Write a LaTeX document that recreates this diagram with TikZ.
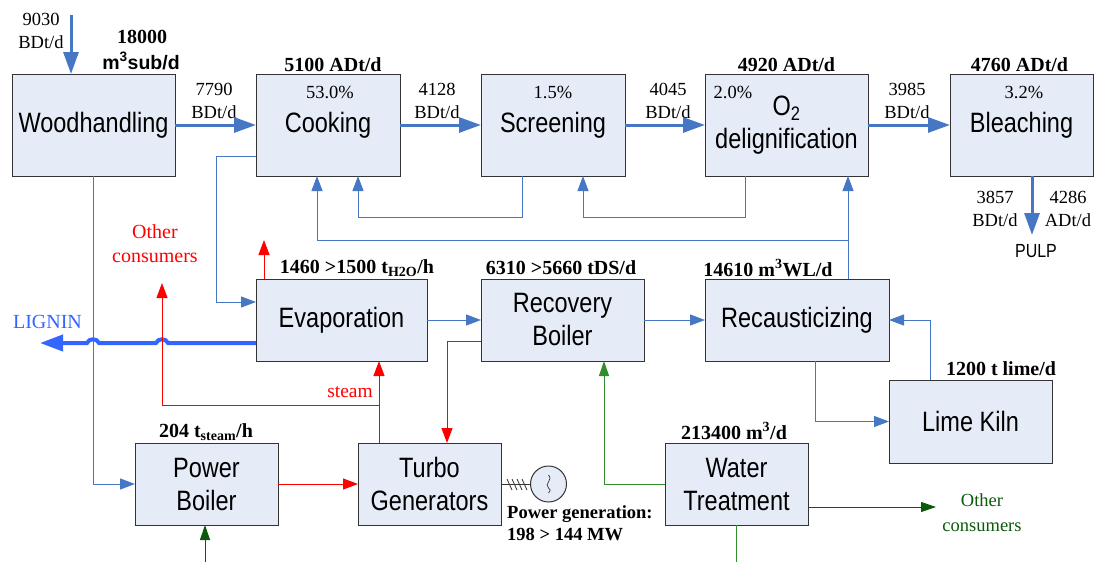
\documentclass[tikz,border=0pt]{standalone}
\usepackage{fontspec}
\setmainfont{Liberation Serif}
\setsansfont{Liberation Sans}
\newfontfamily\boxsans[FakeStretch=0.84]{Liberation Sans}
\usepackage{tikz}
\usetikzlibrary{positioning, arrows.meta, calc}
\definecolor{boxfill}{HTML}{E6ECF7}
\definecolor{flowblue}{HTML}{4677C4}
\definecolor{ligninblue}{HTML}{3366FF}
\definecolor{watergreen}{HTML}{2F8F2F}
\definecolor{darkgreen}{HTML}{0B5A0B}
\tikzset{
    procbox/.style={rectangle, draw=black!80, line width=1pt, fill=boxfill, minimum height=#1, inner sep=0pt, outer sep=0pt, align=center, font=\boxsans\fontsize{28}{33}\selectfont},
    procbox/.default=102pt,
    flowlabel/.style={align=center, inner sep=0pt, font=\fontsize{18.5}{23}\selectfont},
    headlabel/.style={align=center, inner sep=0pt, font=\bfseries\fontsize{20}{24}\selectfont},
    mainflow/.style={-{Triangle[length=22pt,width=15pt]}, line width=3pt, flowblue},
    sideflow/.style={-{Triangle[length=15pt,width=11pt]}, line width=1pt, flowblue},
    steamflow/.style={-{Triangle[length=15pt,width=11pt]}, line width=1pt, red},
    waterflow/.style={-{Triangle[length=15pt,width=10pt]}, line width=1pt, watergreen}
}
\begin{document}
\begin{tikzpicture}[x=1pt, y=-1pt]
    \useasboundingbox (0,0) rectangle (1095,562);
    % top row
    \node[procbox, minimum width=163pt] (wood) at (93.5,125) {Woodhandling};
    \node[procbox, minimum width=144pt, right=81pt of wood] (cook) {Cooking};
    \node[procbox, minimum width=144pt, right=81pt of cook] (screen) {Screening};
    \node[procbox, minimum width=163pt, right=80pt of screen] (o2) {O\textsubscript{2}\\delignification};
    \node[procbox, minimum width=143pt, right=82pt of o2] (bleach) {Bleaching};
    % middle row
    \node[procbox=82pt, minimum width=171pt, below right=103pt and 0pt of cook.south west] (evap) {Evaporation};
    \node[procbox=82pt, minimum width=163pt, right=54pt of evap] (recov) {Recovery\\Boiler};
    \node[procbox=82pt, minimum width=184pt, right=61pt of recov] (recaust) {Recausticizing};
    \node[procbox=83pt, minimum width=163pt, below right=19pt and 0pt of recaust.south east] (lime) {Lime Kiln};
    % bottom row
    \node[procbox=82pt, minimum width=143pt, below right=82pt and 102pt of evap.south west] (turbo) {Turbo\\Generators};
    \node[procbox=82pt, minimum width=143pt, left=80pt of turbo] (power) {Power\\Boiler};
    \node[procbox=82pt, minimum width=143pt, right=164pt of turbo] (water) {Water\\Treatment};
    \node[circle, draw=black!80, line width=1pt, fill=boxfill, minimum size=36pt, inner sep=0pt, right=29pt of turbo] (gen) {};
    % free ends
    \coordinate (woodin) at (71,15);
    \coordinate (pulpin) at (1032,235);
    \coordinate (ligninout) at (40,343);
    \coordinate (evapout) at (264,240);
    \coordinate (steamout) at (162,283);
    \coordinate (steamjct) at (379,405);
    \coordinate (wljct) at (848,240);
    \coordinate (waterout) at (936,507);
    \coordinate (waterin) at (205,562);
    \coordinate (waterdown) at (736.5,562);
    % figures beside the boxes
    \node[flowlabel] (woodinlbl) at (41,31) {9030\\BDt/d};
    \node[flowlabel] (woodflow) at (214,101) {7790\\BDt/d};
    \node[flowlabel] (cookflow) at (437,101) {4128\\BDt/d};
    \node[flowlabel] (screenflow) at (668,101) {4045\\BDt/d};
    \node[flowlabel] (o2flow) at (907,101) {3985\\BDt/d};
    \node[flowlabel] (pulpbd) at (995,209) {3857\\BDt/d};
    \node[flowlabel] (pulpad) at (1068,209) {4286\\ADt/d};
    \node[flowlabel] (cookpct) at (330,92) {53.0\%};
    \node[flowlabel] (screenpct) at (553,92) {1.5\%};
    \node[flowlabel] (o2pct) at (733,92) {2.0\%};
    \node[flowlabel] (bleachpct) at (1024,92) {3.2\%};
    \node[flowlabel, text=red, font=\fontsize{20}{24}\selectfont] (otherred) at (155,244) {Other\\consumers};
    \node[flowlabel, text=red, font=\fontsize{19.5}{23}\selectfont] (steamlbl) at (350,392) {steam};
    \node[flowlabel, text=ligninblue, font=\fontsize{20}{23}\selectfont] (ligninlbl) at (47.5,322) {LIGNIN};
    \node[flowlabel, text=darkgreen, font=\fontsize{18.5}{25}\selectfont] (othergreen) at (982,513) {Other\\consumers};
    \node[inner sep=0pt, font=\boxsans\fontsize{19}{20}\selectfont] (pulp) at (1036,251) {PULP};
    % capacities
    \node[headlabel] (woodcap) at (142,37) {18000};
    \node[headlabel, font=\sffamily\bfseries\fontsize{19.5}{24}\selectfont] (woodcap2) at (141,61) {m\textsuperscript{3}sub/d};
    \node[headlabel, above=2pt of cook, xshift=5pt] (cookcap) {5100 ADt/d};
    \node[headlabel, above=2pt of o2] (o2cap) {4920 ADt/d};
    \node[headlabel, above=2pt of bleach, xshift=-2pt] (bleachcap) {4760 ADt/d};
    \node[headlabel] (evapcap) at (357,268) {1460 >1500 t\textsubscript{H2O}/h};
    \node[headlabel] (recovcap) at (561,268) {6310 >5660 tDS/d};
    \node[headlabel] (recaustcap) at (768,268) {14610 m\textsuperscript{3}WL/d};
    \node[headlabel] (limecap) at (1001,369) {1200 t lime/d};
    \node[headlabel] (powercap) at (206,432) {204 t\textsubscript{steam}/h};
    \node[headlabel] (watercap) at (734,431) {213400 m\textsuperscript{3}/d};
    \node[headlabel, align=left, font=\bfseries\fontsize{18.5}{22}\selectfont, below right=21pt and 6pt of turbo.east] (gencap) {Power generation:\\198 > 144 MW};
    % fibre line
    \draw[mainflow] (woodin) -- (woodin |- wood.north);
    \draw[mainflow] (wood) -- (cook);
    \draw[mainflow] (cook) -- (screen);
    \draw[mainflow] (screen) -- (o2);
    \draw[mainflow] (o2) -- (bleach);
    \draw[mainflow] ([xshift=10.5pt]bleach.south) -- (pulpin);
    % liquor and returns
    \draw[sideflow] (wood.south) |- (power.west);
    \draw[sideflow] ([yshift=-31pt]cook.west) -- ++(-40,0) |- ([yshift=18pt]evap.west);
    \draw[sideflow] ([xshift=-31pt]screen.south) -- ++(0,41) -| ([xshift=30pt]cook.south);
    \draw[sideflow] ([xshift=-41pt]o2.south) -- ++(0,41) -| ([xshift=30pt]screen.south);
    \draw[sideflow] ([xshift=51pt]recaust.north) -- ([xshift=61.5pt]o2.south);
    \draw[sideflow] (wljct) -| ([xshift=-11pt]cook.south);
    \draw[sideflow] (evap) -- (recov);
    \draw[sideflow] (recov) -- (recaust);
    \draw[sideflow] ([xshift=18pt]recaust.south) |- (lime.west);
    \draw[sideflow] ([xshift=-40.5pt]lime.north) |- (recaust.east);
    % lignin with its hops
    \draw[-{Triangle[length=23pt,width=16pt]}, line width=4pt, ligninblue] ([yshift=-23pt]evap.west) -- (168,343) .. controls (166,338) and (158,338) .. (156,343) -- (99,343) .. controls (97,338) and (89,338) .. (87,343) -- (ligninout);
    % steam
    \draw[steamflow] ([xshift=-77.5pt]evap.north) -- (evapout);
    \draw[steamflow] ([xshift=-50.5pt]turbo.north) -- ([xshift=37.5pt]evap.south);
    \draw[steamflow] (steamjct) -| (steamout);
    \draw[steamflow] ([yshift=-21pt]recov.west) -| ([xshift=17.5pt]turbo.north);
    \draw[steamflow] (power) -- (turbo);
    % water
    \draw[waterflow] (water.west) -| ([xshift=41.5pt]recov.south);
    \draw[waterflow, darkgreen] ([yshift=-23pt]water.east) -- (waterout);
    \draw[line width=1pt, watergreen] (water.south) -- (waterdown);
    \draw[waterflow, darkgreen] (waterin) -- ([xshift=-1.5pt]power.south);
    % generator
    \draw[line width=1pt, black!80] (turbo.east) -- (gen.west);
    \foreach \hx in {6,11,16,21} {
        \draw[line width=0.8pt, black!80] ([xshift=\hx pt, yshift=5pt]turbo.east) -- ++(5,11);
    }
    \draw[line width=0.7pt, black!80] ($(gen.center)+(0,-9)$) .. controls ($(gen.center)+(5,-4)$) and ($(gen.center)+(-5,0)$) .. ($(gen.center)+(0,4)$) .. controls ($(gen.center)+(3,6)$) and ($(gen.center)+(1,8)$) .. ($(gen.center)+(0,9)$);
\end{tikzpicture}
\end{document}
